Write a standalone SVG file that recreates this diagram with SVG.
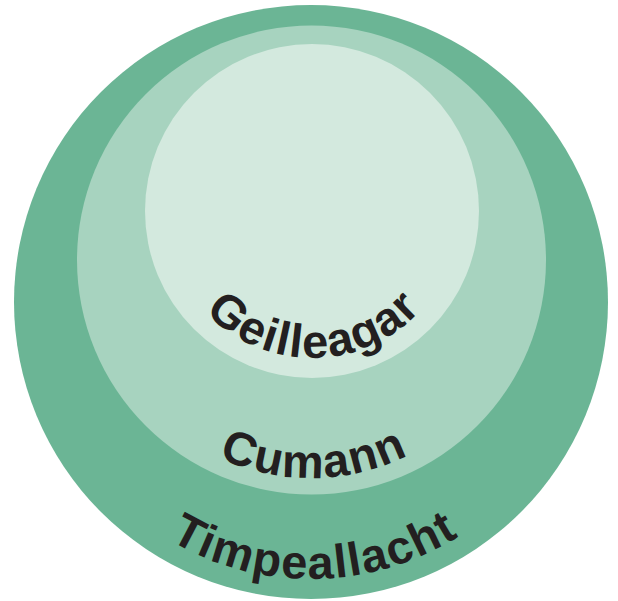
<svg xmlns="http://www.w3.org/2000/svg" xmlns:xlink="http://www.w3.org/1999/xlink" width="618" height="601" viewBox="0 0 618 601">
<style>
.lbl{font-family:"Liberation Sans",Arial,sans-serif;font-weight:bold;font-size:47px;letter-spacing:1.6px;fill:#231f20;}
</style>
<defs>
<path id="arcOuter" d="M 34,302 A 277,277 0 0 0 588,302"/>
<path id="arcMid" d="M 93,260 A 218,218 0 0 0 529,260"/>
<path id="arcInner" d="M 165,211 A 147,147 0 0 0 459,211"/>
</defs>
<g id="outer">
<circle cx="311" cy="302" r="297" fill="#6bb595"/>
<text class="lbl"><textPath xlink:href="#arcOuter" href="#arcOuter" startOffset="50.5%" text-anchor="middle">Timpeallacht</textPath></text>
</g>
<g id="middle">
<circle cx="311.5" cy="260" r="234.5" fill="#a7d3bf"/>
<text class="lbl"><textPath xlink:href="#arcMid" href="#arcMid" startOffset="50.5%" text-anchor="middle">Cumann</textPath></text>
</g>
<g id="inner">
<circle cx="312" cy="211" r="167" fill="#d3e9de"/>
<text class="lbl"><textPath xlink:href="#arcInner" href="#arcInner" startOffset="50.5%" text-anchor="middle">Geilleagar</textPath></text>
</g>
</svg>
